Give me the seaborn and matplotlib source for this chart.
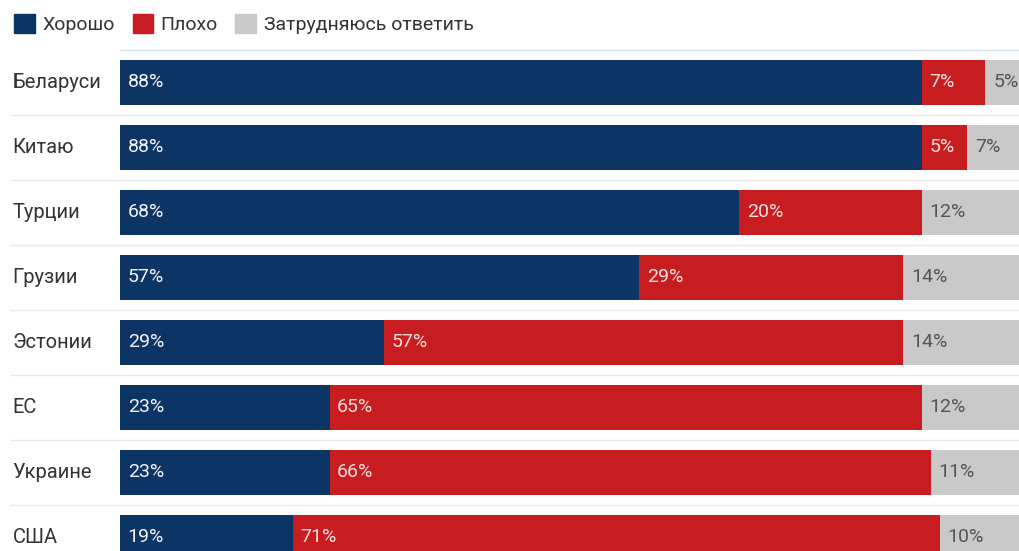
import matplotlib
matplotlib.use("Agg")
import matplotlib.pyplot as plt
import seaborn as sns
import pandas as pd
from matplotlib.patches import Patch

countries = ['Беларуси', 'Китаю', 'Турции', 'Грузии', 'Эстонии', 'ЕС', 'Украине', 'США']
good = [88, 88, 68, 57, 29, 23, 23, 19]
bad = [7, 5, 20, 29, 57, 65, 66, 71]
unsure = [5, 7, 12, 14, 14, 12, 11, 10]
series_names = ['Хорошо', 'Плохо', 'Затрудняюсь ответить']

navy = '#0c3464'
red = '#c81d20'
grey = '#c9c9c9'

sns.set_theme(style='white')
plt.rcParams['font.family'] = ['Roboto', 'DejaVu Sans']

df = pd.DataFrame({'country': countries, 'good': good, 'bad': bad, 'unsure': unsure})
df['good_bad'] = df['good'] + df['bad']
df['total'] = df['good_bad'] + df['unsure']

fig = plt.figure(figsize=(10.2, 5.51), dpi=100)
# axes runs past the right and bottom edges, like the cropped original
ax = fig.add_axes([120 / 1020, 0, 911 / 1020, 501 / 551])

# stacked by overlaying cumulative totals
for col, c in [('total', grey), ('good_bad', red), ('good', navy)]:
    sns.barplot(data=df, y='country', x=col, color=c, width=0.70, saturation=1,
                linewidth=0, ax=ax, orient='h')

ax.set_xlim(0, 100)
ax.set_ylim(7.2077, -0.5)
ax.set_xlabel('')
ax.set_ylabel('')
ax.set_xticks([])
ax.set_yticks([])
for s in ['left', 'right', 'bottom']:
    ax.spines[s].set_visible(False)
ax.spines['top'].set_color('#d4e3ef')
ax.spines['top'].set_linewidth(1.0)

for i, row in df.iterrows():
    ax.text(-11.8, i, row['country'], ha='left', va='center', fontsize=14.5, color='#333333')
    ax.annotate(f"{row['good']}%", (0, i), xytext=(5.5, 0), textcoords='offset points',
                ha='left', va='center', fontsize=14, color='#f2f4f8')
    ax.annotate(f"{row['bad']}%", (row['good'], i), xytext=(5.5, 0), textcoords='offset points',
                ha='left', va='center', fontsize=14, color='#f4dede')
    ax.annotate(f"{row['unsure']}%", (row['good_bad'], i), xytext=(5.5, 0), textcoords='offset points',
                ha='left', va='center', fontsize=14, color='#555555')
    if i < len(df) - 1:
        ax.axhline(i + 0.5, xmin=-0.12, xmax=1, color='#e8e8e8', lw=1, clip_on=False)

handles = [Patch(color=c) for c in [navy, red, grey]]
fig.legend(handles, series_names, loc='upper left', bbox_to_anchor=(-0.003, 1.007), ncol=3, frameon=False,
           handlelength=1.05, handleheight=1.15, handletextpad=0.4, columnspacing=0.9,
           fontsize=14, labelcolor='#333333')

fig.savefig('out.png', dpi=100)
